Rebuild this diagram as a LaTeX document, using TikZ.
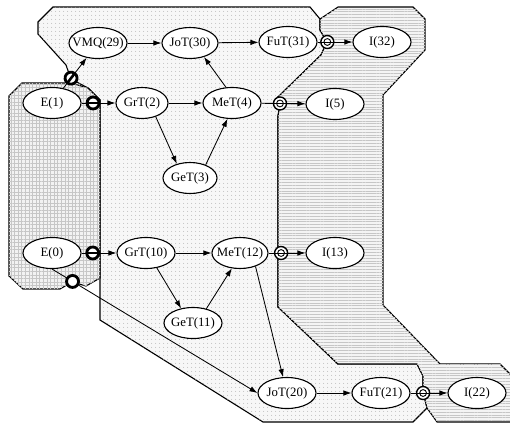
\documentclass[tikz,border=0pt]{standalone}
\usepackage{fontspec}
\setmainfont{Liberation Serif}
\usetikzlibrary{shapes.geometric,arrows.meta,patterns.meta}
\newcommand{\cutbar}{\rule[-1.3pt]{10pt}{2.6pt}}
\newcommand{\ringbar}{\rule[-0.4pt]{12pt}{0.8pt}}
\begin{document}
\begin{tikzpicture}[x=1pt,y=-1pt,
  task/.style={ellipse, draw=black, line width=1.1pt, fill=white, minimum width=58pt, minimum height=31pt, inner xsep=-9pt, inner ysep=0pt, font=\fontsize{12.8}{14}\selectfont},
  edge/.style={draw=black, line width=0.85pt, -{Latex[length=8pt,width=5.5pt]}},
  region/.style={draw=black, line width=1.1pt, line join=miter},
  midfill/.style={fill=gray!6, postaction={pattern={Dots[distance=4pt,radius=0.5pt]}, pattern color=gray!70}},
  rightfill/.style={fill=gray!9, postaction={pattern={Lines[angle=0,distance=2.8pt,line width=0.3pt]}, pattern color=gray!45}},
  leftfill/.style={fill=gray!10, postaction={pattern={Hatch[distance=3.6pt,line width=0.3pt]}, pattern color=gray!45}},
  cutmark/.style={circle, draw=black, line width=2.8pt, fill=white, minimum size=12pt, inner sep=0pt, sloped},
  cutring/.style={circle, draw=black, line width=2.8pt, fill=white, minimum size=12pt, inner sep=0pt},
  ringmark/.style={circle, draw=black, line width=1.4pt, fill=white, minimum size=13pt, inner sep=0pt, sloped, path picture={\draw[line width=0.9pt] (path picture bounding box.center) circle (3.4pt);}},
]
\useasboundingbox (0,0) rectangle (510,426);

% ---- region boundary points
\coordinate (M1) at (53,7);    \coordinate (M2) at (310,7);
\coordinate (M3) at (320,19);  \coordinate (M4) at (320,30);
\coordinate (M5) at (327,42);  \coordinate (M6) at (321,55);
\coordinate (M7) at (278,97);  \coordinate (M8) at (280,104);
\coordinate (M9) at (278,116); \coordinate (M10) at (278,307);
\coordinate (M11) at (338,364);\coordinate (M12) at (417,364);
\coordinate (M13) at (423,376);\coordinate (M14) at (423,392);
\coordinate (M15) at (427,408);\coordinate (M16) at (413,422);
\coordinate (M17) at (263,422);\coordinate (M18) at (100,320);
\coordinate (M19) at (100,100);\coordinate (M20) at (88,88);
\coordinate (M21) at (71,79);  \coordinate (M22) at (66,65);
\coordinate (M23) at (38,34);  \coordinate (M24) at (38,22);

\coordinate (R1) at (338,7);   \coordinate (R2) at (413,7);
\coordinate (R3) at (425,19);  \coordinate (R4) at (425,50);
\coordinate (R5) at (383,95);  \coordinate (R6) at (383,305);
\coordinate (R7) at (440,364); \coordinate (R8) at (500,364);
\coordinate (R9) at (515,379); \coordinate (R10) at (515,422);
\coordinate (R11) at (437,422);

\coordinate (L1) at (22,83);   \coordinate (L2) at (71,83);
\coordinate (L3) at (100,278); \coordinate (L4) at (86,286);
\coordinate (L5) at (72,282);  \coordinate (L6) at (60,289);
\coordinate (L7) at (23,289);  \coordinate (L8) at (9,276);
\coordinate (L9) at (9,96);

% ---- regions
\draw[region, midfill] (M1) -- (M2) -- (M3) -- (M4) -- (M5) -- (M6) -- (M7) -- (M8) -- (M9) -- (M10) -- (M11) -- (M12) -- (M13) -- (M14) -- (M15) -- (M16) -- (M17) -- (M18) -- (M19) -- (M20) -- (M21) -- (M22) -- (M23) -- (M24) -- cycle;
\draw[region, rightfill] (R1) -- (R2) -- (R3) -- (R4) -- (R5) -- (R6) -- (R7) -- (R8) -- (R9) -- (R10) -- (R11) -- (M15) -- (M14) -- (M13) -- (M12) -- (M11) -- (M10) -- (M9) -- (M8) -- (M7) -- (M6) -- (M5) -- (M4) -- (M3) -- cycle;
\draw[region, leftfill] (L1) -- (L2) -- (M20) -- (M19) -- (L3) -- (L4) -- (L5) -- (L6) -- (L7) -- (L8) -- (L9) -- cycle;

% ---- tasks
\node[task] (VMQ) at (98,43) {VMQ(29)};
\node[task, minimum width=56pt] (JoT30) at (190,43) {JoT(30)};
\node[task] (FuT31) at (288,42) {FuT(31)};
\node[task] (I32) at (382,42) {I(32)};
\node[task] (E1) at (52,103) {E(1)};
\node[task, minimum width=52pt] (GrT2) at (142,103) {GrT(2)};
\node[task] (MeT4) at (232,103) {MeT(4)};
\node[task] (I5) at (335,104) {I(5)};
\node[task, minimum width=54pt] (GeT3) at (190,178) {GeT(3)};
\node[task] (E0) at (52,253) {E(0)};
\node[task] (GrT10) at (146,253) {GrT(10)};
\node[task, minimum width=56pt] (MeT12) at (240,253) {MeT(12)};
\node[task] (I13) at (335,253) {I(13)};
\node[task] (GeT11) at (193,323) {GeT(11)};
\node[task] (JoT20) at (287,393) {JoT(20)};
\node[task] (FuT21) at (381,393) {FuT(21)};
\node[task] (I22) at (477,393) {I(22)};

% ---- connectors
\draw[edge] (VMQ) -- (JoT30);
\draw[edge] (JoT30) -- (FuT31);
\draw[edge] (FuT31) -- node[ringmark, pos=0.28] (r32) {\ringbar} (I32);
\draw[edge] (E1) -- node[cutmark, pos=0.33] (c29) {\cutbar} (VMQ);
\draw[edge] (E1) -- node[cutmark, pos=0.34] (c2) {\cutbar} (GrT2);
\draw[edge] (GrT2) -- (MeT4);
\draw[edge] (GrT2.-45) -- (GeT3.133);
\draw[edge] (GeT3.40) -- (MeT4.-106);
\draw[edge] (MeT4.111) -- (JoT30.-45);
\draw[edge] (MeT4) -- node[ringmark, pos=0.42] (r5) {\ringbar} (I5);
\draw[edge] (E0) -- node[cutmark, pos=0.32] (c10) {\cutbar} (GrT10);
\draw[edge] (E0.south) -- node[cutring, pos=0.1] (c20) {} (JoT20.west);
\draw[edge] (GrT10) -- (MeT12);
\draw[edge] (GrT10.-54) -- (GeT11.129);
\draw[edge] (GeT11.47) -- (MeT12.-118);
\draw[edge] (MeT12) -- node[ringmark, pos=0.34] (r13) {\ringbar} (I13);
\draw[edge] (MeT12.-41) -- (JoT20.104);
\draw[edge] (JoT20) -- (FuT21);
\draw[edge] (FuT21) -- node[ringmark, pos=0.34] (r22) {\ringbar} (I22);
\end{tikzpicture}
\end{document}
